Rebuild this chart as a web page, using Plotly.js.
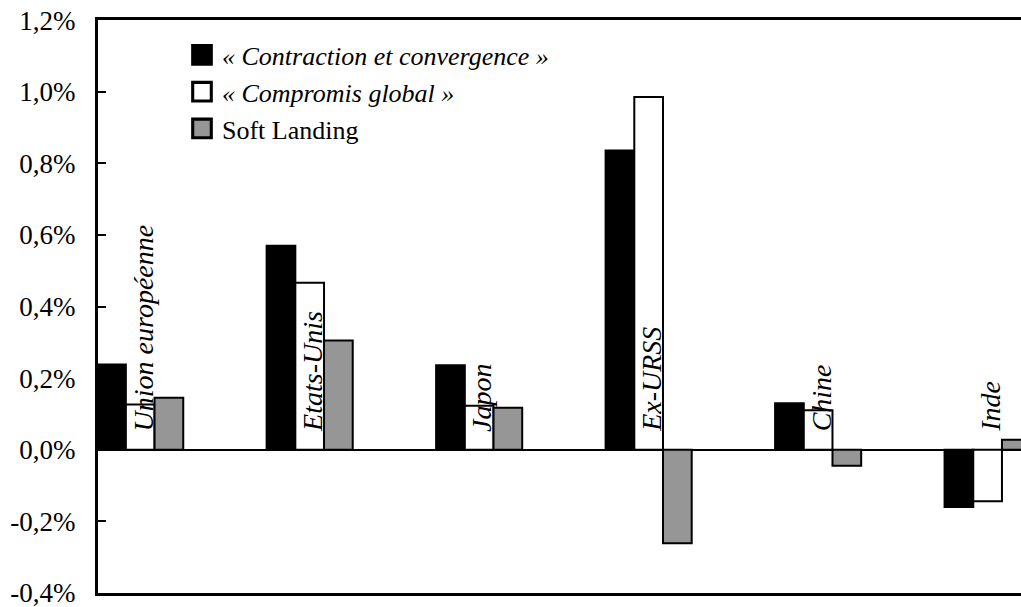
<!DOCTYPE html>
<html>
<head>
<meta charset="utf-8">
<script src="https://cdn.plot.ly/plotly-3.0.1.min.js"></script>
<style>
  html, body { margin: 0; padding: 0; background: #fff; }
  #chart { width: 1021px; height: 607px; }
</style>
</head>
<body>
<div id="chart"></div>
<script>
// ---- data (values in %) ----
const categories = ["Union européenne", "Etats-Unis", "Japon", "Ex-URSS", "Chine", "Inde"];
const seriesNames = ["<i>« Contraction et convergence »</i>", "<i>« Compromis global »</i>", "Soft Landing"];
const contraction = [0.238, 0.570, 0.236, 0.836, 0.130, -0.160];
const compromis   = [0.126, 0.466, 0.123, 0.985, 0.110, -0.144];
const softLanding = [0.145, 0.305, 0.117, -0.261, -0.045, 0.028];
const yTickVals = [-0.4, -0.2, 0.0, 0.2, 0.4, 0.6, 0.8, 1.0, 1.2];
const yTickText = ["-0,4%", "-0,2%", "0,0%", "0,2%", "0,4%", "0,6%", "0,8%", "1,0%", "1,2%"];

const FONT = "Liberation Serif, Times New Roman, serif";
const fills = ["#000000", "#ffffff", "#969696"];
const seriesValues = [contraction, compromis, softLanding];

const xIdx = categories.map((_, i) => i);

const traces = seriesValues.map((vals, k) => ({
  type: "bar",
  name: seriesNames[k],
  x: xIdx,
  y: vals,
  marker: { color: fills[k], line: { color: "#000000", width: 2 } },
  hoverinfo: "skip"
}));

const annotations = categories.map((c, i) => ({
  x: i, y: 0, xref: "x", yref: "y",
  text: "<i>" + c + "</i>",
  showarrow: false,
  textangle: -90,
  xanchor: "center", yanchor: "bottom",
  xshift: 3, yshift: 16,
  font: { family: FONT, size: 28, color: "#000" }
}));

const layout = {
  width: 1021, height: 607,
  margin: { l: 98, r: 0, t: 20, b: 14, pad: 0 },
  paper_bgcolor: "#ffffff",
  plot_bgcolor: "#ffffff",
  font: { family: FONT, size: 26, color: "#000" },
  barmode: "group",
  bargap: 0.492,
  bargroupgap: 0,
  showlegend: true,
  legend: {
    x: 0.091, y: 0.98, xanchor: "left", yanchor: "top",
    bgcolor: "rgba(0,0,0,0)",
    font: { family: FONT, size: 26, color: "#000" },
    tracegroupgap: 0,
    itemclick: false, itemdoubleclick: false
  },
  xaxis: {
    range: [-0.249, 5.197],
    showticklabels: false,
    ticks: "",
    showgrid: false,
    zeroline: false,
    showline: true, mirror: true,
    linecolor: "#000", linewidth: 3,
    fixedrange: true
  },
  yaxis: {
    range: [-0.4002, 1.2002],
    tickvals: yTickVals,
    ticktext: yTickText,
    ticks: "inside", ticklen: 8, tickwidth: 2, tickcolor: "#000",
    ticklabelstandoff: 14,
    ticklabeloverflow: "allow",
    tickfont: { family: FONT, size: 27, color: "#000" },
    showgrid: false,
    zeroline: true, zerolinecolor: "#000", zerolinewidth: 2,
    showline: true, mirror: false,
    linecolor: "#000", linewidth: 3,
    fixedrange: true
  },
  annotations: annotations
};

Plotly.newPlot("chart", traces, layout, { staticPlot: true, displayModeBar: false }).then(function (gd) {
  // enlarge legend swatches to match the reference's bigger squares
  gd.querySelectorAll(".legend .legendpoints path").forEach(function (p) {
    const t = p.getAttribute("transform") || "";
    p.setAttribute("transform", t + " scale(1.55)");
  });
});
</script>
</body>
</html>
